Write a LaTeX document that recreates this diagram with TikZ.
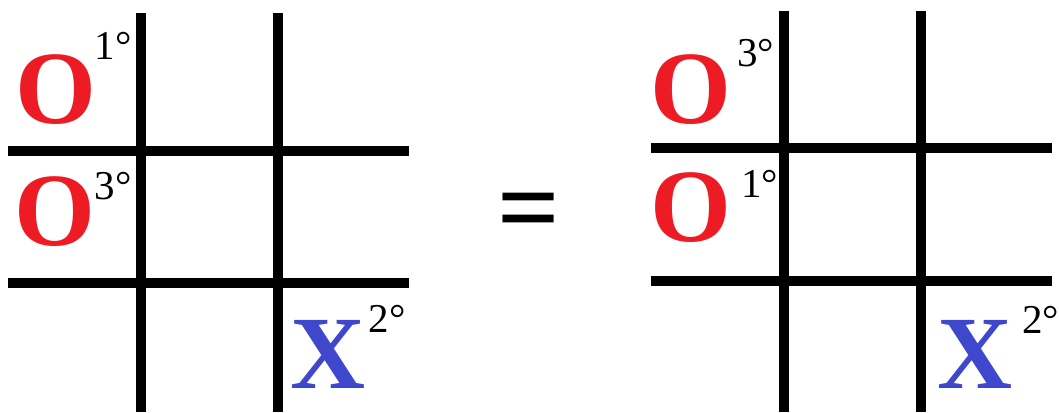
\documentclass[tikz,border=0pt]{standalone}
\usepackage{fontspec}
\setmainfont{Liberation Serif}
\definecolor{ored}{RGB}{237,28,36}
\definecolor{xblue}{RGB}{63,72,204}

\begin{document}
\begin{tikzpicture}[x=1pt, y=-1pt,
    gridline/.style={line width=10pt},
    nought/.style={inner sep=0pt, text=ored, font=\fontsize{104}{104}\selectfont\bfseries},
    cross/.style={inner sep=0pt, text=xblue, font=\fontsize{104}{104}\selectfont\bfseries},
    turn/.style={inner sep=0pt, font=\fontsize{41}{41}\selectfont}]
  \useasboundingbox (0,0) rectangle (1059,412);
  % left board
  \draw[gridline] (141,13) -- (141,412);
  \draw[gridline] (278,13) -- (278,412);
  \draw[gridline] (8,151) -- (409,151);
  \draw[gridline] (8,283) -- (409,283);
  \node[nought] (LO1) at (56,89.5) {O};
  \node[turn] (LT1) at (113,46) {1°};
  \node[nought] (LO3) at (54.5,212) {O};
  \node[turn] (LT3) at (113,186) {3°};
  \node[cross] (LX2) at (328.5,354.5) {X};
  \node[turn] (LT2) at (387,318.5) {2°};
  % equals
  \node[inner sep=0pt, font=\fontsize{110}{110}\selectfont\bfseries] (eq) at (528.5,218.5) {=};
  % right board
  \draw[gridline] (784,11) -- (784,412);
  \draw[gridline] (921,11) -- (921,412);
  \draw[gridline] (651,148) -- (1052,148);
  \draw[gridline] (651,281) -- (1052,281);
  \node[nought] (RO3) at (691,89.5) {O};
  \node[turn] (RT3) at (755.5,53.5) {3°};
  \node[nought] (RO1) at (691,207.5) {O};
  \node[turn] (RT1) at (759.5,184) {1°};
  \node[cross] (RX2) at (975.5,354) {X};
  \node[turn] (RT2) at (1040.5,320) {2°};
\end{tikzpicture}
\end{document}
